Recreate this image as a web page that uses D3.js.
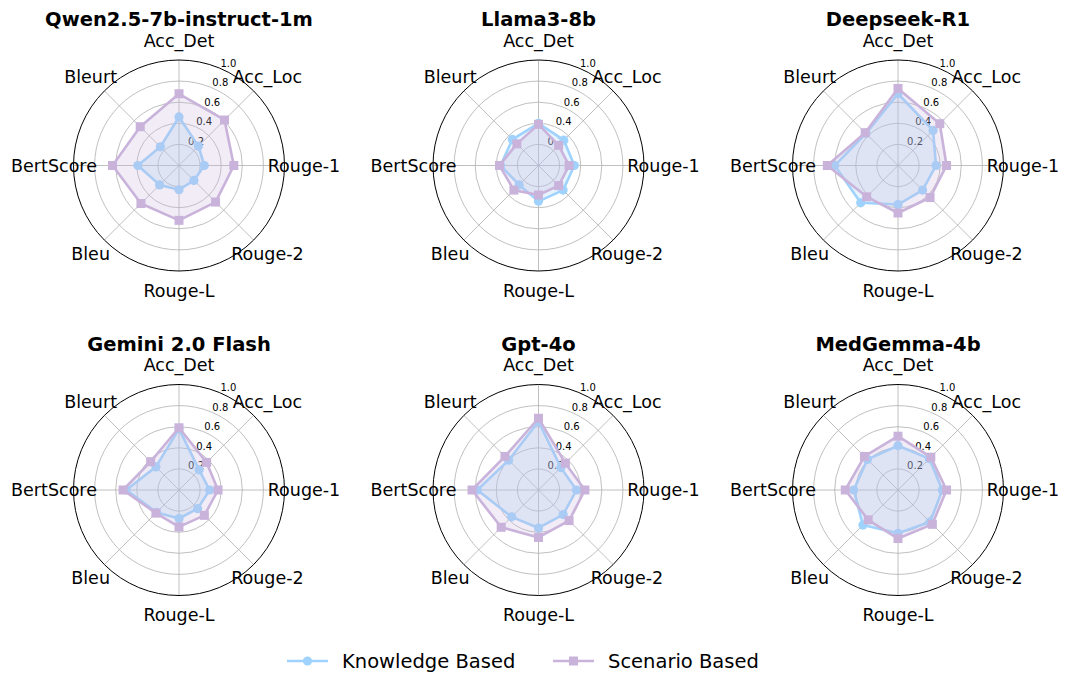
<!DOCTYPE html>
<html>
<head>
<meta charset="utf-8">
<script src="https://d3js.org/d3.v7.min.js"></script>
<style>
  body { margin: 0; background: #fff; }
  svg { display: block; font-family: "DejaVu Sans", sans-serif; }
</style>
</head>
<body>
<svg id="chart" width="1070" height="688"></svg>
<script>
const models = ["Qwen2.5-7b-instruct-1m", "Llama3-8b", "Deepseek-R1", "Gemini 2.0 Flash", "Gpt-4o", "MedGemma-4b"];
const metrics = ["Acc_Det", "Acc_Loc", "Rouge-1", "Rouge-2", "Rouge-L", "Bleu", "BertScore", "Bleurt"];
const rTicks = [0.2, 0.4, 0.6, 0.8, 1.0];
const seriesNames = ["Knowledge Based", "Scenario Based"];

// values, one row per model, in metric order
const knowledge = [
    [0.46, 0.26, 0.24, 0.20, 0.23, 0.26, 0.39, 0.25],
    [0.40, 0.34, 0.34, 0.33, 0.34, 0.26, 0.36, 0.35],
    [0.68, 0.47, 0.36, 0.33, 0.37, 0.50, 0.60, 0.43],
    [0.58, 0.27, 0.29, 0.25, 0.27, 0.30, 0.50, 0.31],
    [0.65, 0.30, 0.36, 0.33, 0.36, 0.36, 0.58, 0.40],
    [0.42, 0.42, 0.42, 0.43, 0.41, 0.47, 0.42, 0.41]
];
const scenario = [
    [0.68, 0.61, 0.52, 0.49, 0.52, 0.51, 0.63, 0.52],
    [0.39, 0.27, 0.29, 0.27, 0.28, 0.33, 0.37, 0.29],
    [0.73, 0.56, 0.46, 0.43, 0.45, 0.42, 0.67, 0.44],
    [0.59, 0.37, 0.37, 0.34, 0.35, 0.31, 0.53, 0.38],
    [0.68, 0.36, 0.44, 0.41, 0.45, 0.50, 0.63, 0.45],
    [0.51, 0.44, 0.46, 0.46, 0.46, 0.40, 0.50, 0.45]
];

const colors = ["#9fd3fd", "#c9b3db"];
const svg = d3.select("#chart");

const radius = 105.5;
const r = d3.scaleLinear().domain([0, 1]).range([0, radius]);
const angle = d3.scaleLinear().domain([0, metrics.length]).range([0, 2 * Math.PI]);

const cx = d3.scaleLinear().domain([0, 1]).range([179, 538.5]);
const cy = d3.scaleLinear().domain([0, 1]).range([165.5, 490]);

const radial = d3.lineRadial()
    .angle((d, i) => angle(i))
    .radius(d => r(d))
    .curve(d3.curveLinearClosed);

function polar(a, rr) {
    return [rr * Math.sin(a), -rr * Math.cos(a)];
}

models.forEach(function(name, m) {
    const g = svg.append("g")
        .attr("transform", `translate(${cx(m % 3)},${cy(Math.floor(m / 3))})`);

    // grid circles
    g.selectAll(".grid")
        .data(rTicks.slice(0, -1))
        .join("circle")
        .attr("r", d => r(d))
        .attr("fill", "none")
        .attr("stroke", "#b0b0b0")
        .attr("stroke-width", 0.8);

    // spokes
    g.selectAll(".spoke")
        .data(metrics)
        .join("line")
        .attr("x1", 0).attr("y1", 0)
        .attr("x2", (d, i) => polar(angle(i), radius)[0])
        .attr("y2", (d, i) => polar(angle(i), radius)[1])
        .attr("stroke", "#b0b0b0")
        .attr("stroke-width", 0.8);

    // r tick labels
    g.selectAll(".rtick")
        .data(rTicks)
        .join("text")
        .attr("x", d => polar(Math.PI / 8, r(d))[0] + 9)
        .attr("y", d => polar(Math.PI / 8, r(d))[1] - 5)
        .attr("text-anchor", "middle")
        .attr("dominant-baseline", "central")
        .attr("font-size", 10)
        .text(d => d.toFixed(1));

    // series
    [knowledge, scenario].forEach(function(series, s) {
        const vals = series[m];
        g.append("path")
            .attr("d", radial(vals))
            .attr("fill", colors[s])
            .attr("fill-opacity", 0.25)
            .attr("stroke", colors[s])
            .attr("stroke-width", 2.6)
            .attr("stroke-linejoin", "round");
        const pts = g.selectAll(".pt" + s)
            .data(vals)
            .join(s === 0 ? "circle" : "rect")
            .attr("fill", colors[s]);
        if (s === 0) {
            pts.attr("cx", (d, i) => polar(angle(i), r(d))[0])
                .attr("cy", (d, i) => polar(angle(i), r(d))[1])
                .attr("r", 4.6);
        } else {
            pts.attr("x", (d, i) => polar(angle(i), r(d))[0] - 4.5)
                .attr("y", (d, i) => polar(angle(i), r(d))[1] - 4.5)
                .attr("width", 9).attr("height", 9);
        }
    });

    // outer circle
    g.append("circle")
        .attr("r", radius)
        .attr("fill", "none")
        .attr("stroke", "#000")
        .attr("stroke-width", 1);

    // metric labels
    g.selectAll(".lab")
        .data(metrics)
        .join("text")
        .attr("x", (d, i) => polar(angle(i), 125)[0])
        .attr("y", (d, i) => polar(angle(i), 125)[1])
        .attr("text-anchor", "middle")
        .attr("dominant-baseline", "central")
        .attr("font-size", 17.5)
        .text(d => d);

    g.append("text")
        .attr("x", 0)
        .attr("y", -146)
        .attr("text-anchor", "middle")
        .attr("dominant-baseline", "central")
        .attr("font-size", 19.5)
        .attr("font-weight", "bold")
        .text(name);
});

// legend
const legendX = [287, 553];
const leg = svg.append("g").attr("transform", "translate(0,661)");
seriesNames.forEach(function(name, s) {
    const x0 = legendX[s];
    leg.append("line")
        .attr("x1", x0).attr("x2", x0 + 41)
        .attr("y1", 0).attr("y2", 0)
        .attr("stroke", colors[s])
        .attr("stroke-width", 2.6);
    if (s === 0) {
        leg.append("circle").attr("cx", x0 + 20.5).attr("cy", 0).attr("r", 4.6).attr("fill", colors[s]);
    } else {
        leg.append("rect").attr("x", x0 + 16).attr("y", -4.5).attr("width", 9).attr("height", 9).attr("fill", colors[s]);
    }
    leg.append("text")
        .attr("x", x0 + 55)
        .attr("y", 0)
        .attr("dominant-baseline", "central")
        .attr("font-size", 19.5)
        .text(name);
});
</script>
</body>
</html>
